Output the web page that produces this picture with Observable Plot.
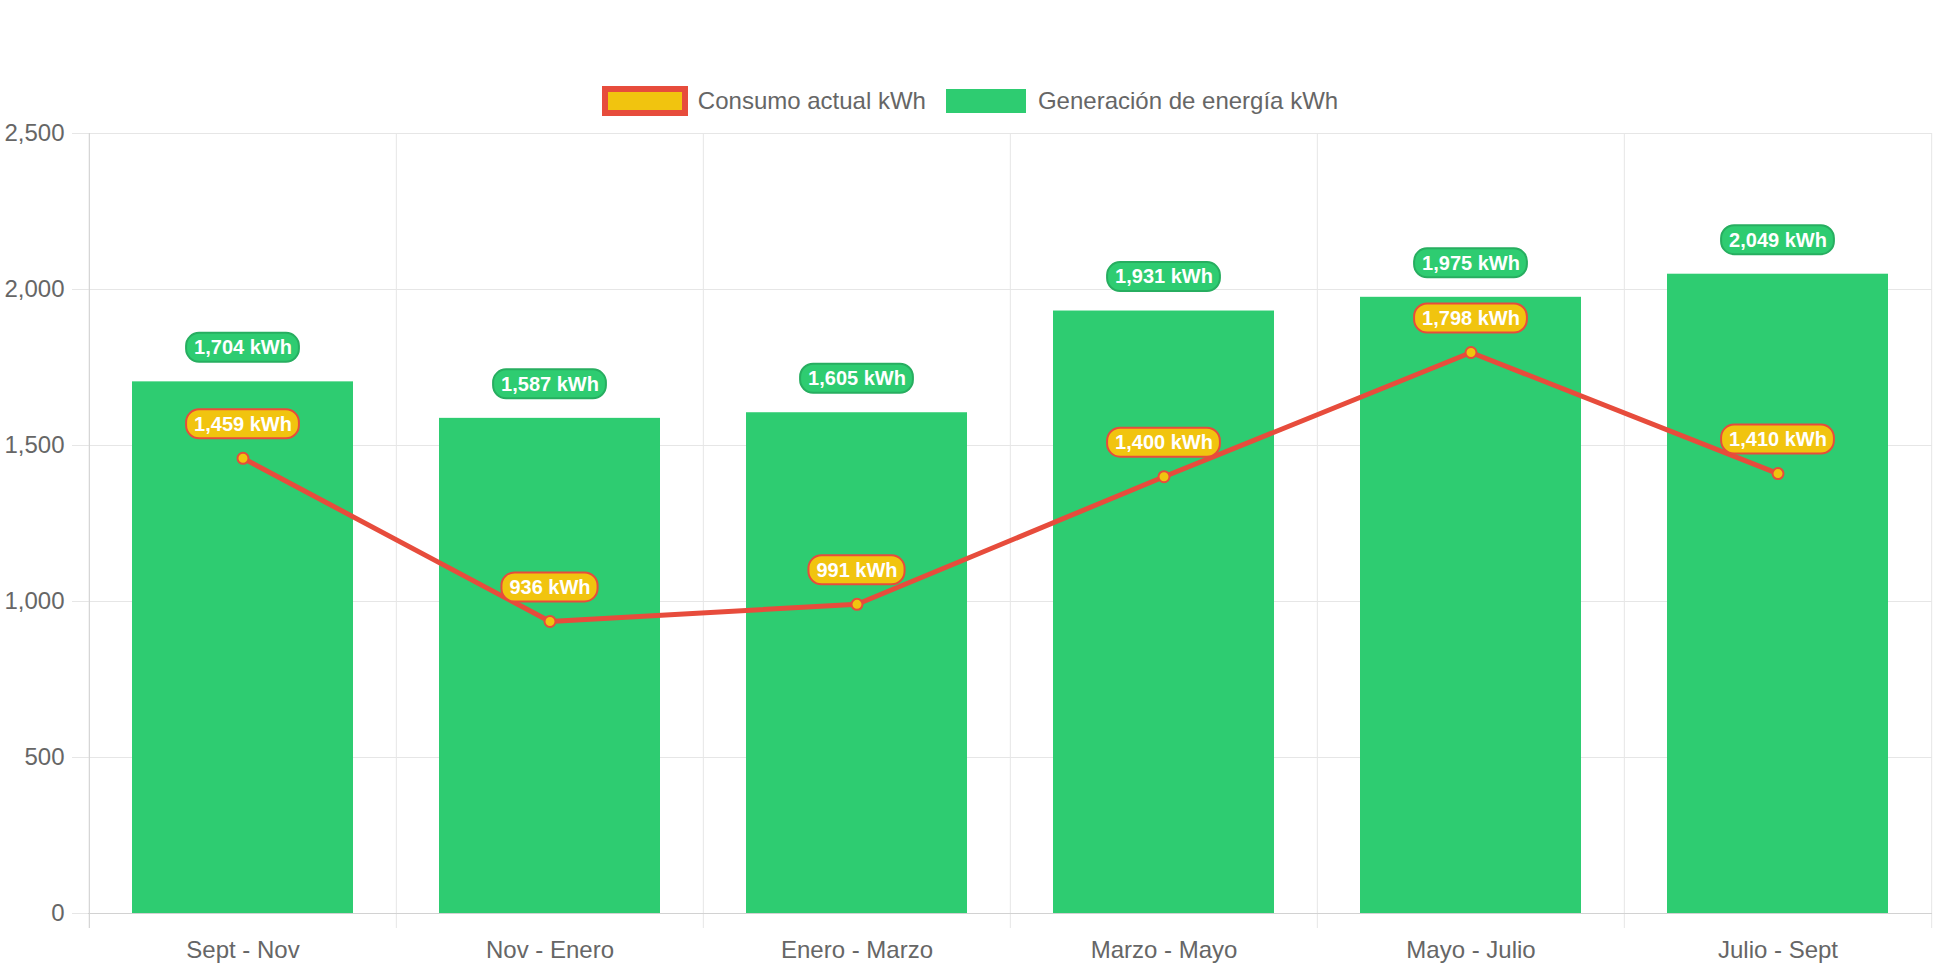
<!DOCTYPE html>
<html>
<head>
<meta charset="utf-8">
<script src="https://cdn.jsdelivr.net/npm/d3@7"></script>
<script src="https://cdn.jsdelivr.net/npm/@observablehq/plot@0.6"></script>
<style>
  body { margin: 0; background: #fff; font-family: "Liberation Sans", Arial, sans-serif; }
  #legend { height: 115px; position: relative; }
  #legend .row { position: absolute; top: 86px; left: 0; right: 0; height: 30px; display: flex; justify-content: center; align-items: center; padding-right: 2px; }
  #legend .item { display: flex; align-items: center; font-size: 24px; color: #666; line-height: 30px; }
  #legend .sw1 { width: 74px; height: 18px; background: #f1c40f; border: 6px solid #e74c3c; margin-right: 10px; }
  #legend .sw2 { width: 80px; height: 24px; background: #2ecc71; margin-left: 20px; margin-right: 12px; }
</style>
</head>
<body>
<div id="legend"></div>
<div id="chart"></div>
<script>
const categories = ["Sept - Nov", "Nov - Enero", "Enero - Marzo", "Marzo - Mayo", "Mayo - Julio", "Julio - Sept"];
const generacion = [1704, 1587, 1605, 1931, 1975, 2049];
const consumo = [1459, 936, 991, 1400, 1798, 1410];
const yTicks = [0, 500, 1000, 1500, 2000, 2500];
const seriesNames = ["Consumo actual kWh", "Generación de energía kWh"];
const unit = " kWh";

const colors = { green: "#2ecc71", greenBorder: "#27ae60", yellow: "#f1c40f", red: "#e74c3c", grid: "#e6e6e6", axis: "#d2d2d2", text: "#666" };

// legend
const legend = document.getElementById("legend");
legend.innerHTML = `<div class="row">
  <div class="item"><div class="sw1"></div><span>${seriesNames[0]}</span></div>
  <div class="item"><div class="sw2"></div><span>${seriesNames[1]}</span></div>
</div>`;

const data = categories.map((c, i) => ({ cat: c, gen: generacion[i], con: consumo[i] }));
const fmt = d3.format(",");
const label = v => fmt(v) + unit;

const W = 1942, H = 855, mL = 88, mR = 10, mT = 18, mB = 57;
const step = (W - mL - mR) / categories.length;
const last = categories[categories.length - 1];

const ctx = document.createElement("canvas").getContext("2d");
ctx.font = "bold 20px 'Liberation Sans'";
const measure = s => ctx.measureText(s).width;

function pills(key, fill, stroke) {
  return (index, scales) => {
    const g = d3.create("svg:g");
    const bw = scales.x.bandwidth ? scales.x.bandwidth() : 0;
    data.forEach(d => {
      const cx = scales.x(d.cat) + bw / 2;
      const cy = scales.y(d[key]) - 34;
      const w = measure(label(d[key])) + 15;
      g.append("rect")
        .attr("x", cx - w / 2).attr("y", cy - 14.5)
        .attr("width", w).attr("height", 29)
        .attr("rx", 13).attr("ry", 13)
        .attr("fill", fill).attr("stroke", stroke).attr("stroke-width", 2);
    });
    return g.node();
  };
}

const chart = Plot.plot({
  width: W,
  height: H,
  marginLeft: mL,
  marginRight: mR,
  marginTop: mT,
  marginBottom: mB,
  style: { fontFamily: "'Liberation Sans', Arial, sans-serif", fontSize: "24px", background: "#fff" },
  x: { type: "band", domain: categories, paddingInner: 0.28, paddingOuter: 0.14, label: null },
  y: { domain: [0, 2500], label: null },
  marks: [
    Plot.ruleY(yTicks, { stroke: colors.grid }),
    Plot.ruleX(categories, { x: d => d, dx: -step / 2, stroke: colors.grid, insetBottom: -15 }),
    Plot.ruleX([last], { x: d => d, dx: step / 2, stroke: colors.grid, insetBottom: -15 }),
    Plot.barY(data, { x: "cat", y: "gen", fill: colors.green }),
    Plot.ruleY([0], { stroke: colors.axis }),
    Plot.ruleX([categories[0]], { x: d => d, dx: -step / 2, stroke: colors.axis, insetBottom: -15 }),
    Plot.lineY(data, { x: "cat", y: "con", stroke: colors.red, strokeWidth: 5 }),
    Plot.dot(data, { x: "cat", y: "con", r: 5.5, fill: colors.yellow, stroke: colors.red, strokeWidth: 2 }),
    pills("gen", colors.green, colors.greenBorder),
    pills("con", colors.yellow, colors.red),
    Plot.text(data, { x: "cat", y: "gen", text: d => label(d.gen), dy: -34, fill: "white", fontWeight: "bold", fontSize: 20 }),
    Plot.text(data, { x: "cat", y: "con", text: d => label(d.con), dy: -34, fill: "white", fontWeight: "bold", fontSize: 20 }),
    Plot.axisY(yTicks, { tickSize: 16, tickPadding: 8, stroke: colors.grid, fill: colors.text, tickFormat: fmt, fontSize: 24, label: null }),
    Plot.axisX({ tickSize: 0, tickPadding: 27, fill: colors.text, fontSize: 24, label: null })
  ]
});
document.getElementById("chart").appendChild(chart);
</script>
</body>
</html>
